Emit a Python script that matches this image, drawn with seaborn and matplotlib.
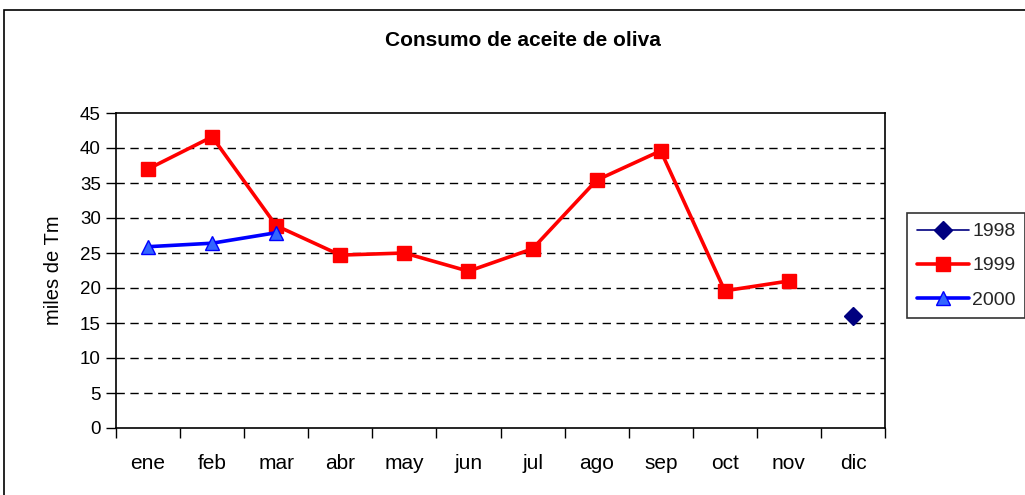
import numpy as np, pandas as pd, matplotlib
matplotlib.use('Agg')
import matplotlib.pyplot as plt
import seaborn as sns
from matplotlib.patches import Rectangle

meses=['ene','feb','mar','abr','may','jun','jul','ago','sep','oct','nov','dic']
v1998=[np.nan]*11+[16.0]
v1999=[37.0,41.6,28.9,24.7,25.0,22.4,25.6,35.4,39.6,19.6,21.0,np.nan]
v2000=[25.9,26.4,27.9]+[np.nan]*9

sns.set_theme(style='white')
plt.rcParams['font.family']=['Liberation Sans','DejaVu Sans']

fig=plt.figure(figsize=(10.25,4.95),dpi=100)
ax=fig.add_axes([116/1025,1-428/495,769/1025,315/495])
x=np.arange(len(meses))
series=[('1998',v1998,'#000080','D',1.2,9,'#000080'),
        ('1999',v1999,'#ff0000','s',2.6,10,'#ff0000'),
        ('2000',v2000,'#0000ff','^',2.6,10,'#3366ff')]
for name,vals,col,mk,lw,ms,fc in series:
    d=pd.DataFrame({'x':x,'y':vals}).dropna()
    sns.lineplot(data=d,x='x',y='y',ax=ax,color=col,marker=mk,linewidth=lw,markersize=ms,
                 markerfacecolor=fc,markeredgecolor=col,markeredgewidth=1,label=name,legend=False)

ax.set_xlim(-0.5,11.5); ax.set_ylim(0,45)
ax.set_yticks(range(0,46,5))
ax.set_xticks(x); ax.set_xticklabels(meses)
ax.set_xticks(np.arange(-0.5,12,1),minor=True)
ax.tick_params(axis='x',which='major',length=0,pad=19,labelsize=15,colors='black')
ax.tick_params(axis='x',which='minor',length=7,width=1,direction='out',color='black',bottom=True)
ax.tick_params(axis='y',length=7,width=1,direction='out',left=True,labelsize=13.5,colors='black',pad=4)
for yy in range(5,45,5):
    ax.axhline(yy,color='black',lw=1,ls=(0,(6,4)),zorder=0)
for s in ax.spines.values():
    s.set_visible(True); s.set_color('black'); s.set_linewidth(1.2)
ax.set_xlabel('')
ax.set_ylabel('miles de Tm',fontsize=14.5,color='black',labelpad=12)

fig.text(523/1025,1-41/495,'Consumo de aceite de oliva',ha='center',va='center',fontsize=15,fontweight='bold',color='black')
fig.patches.append(Rectangle((4/1025,-0.1),1.2,1-10/495+0.1,transform=fig.transFigure,fill=False,edgecolor='black',lw=1.2))

h,l=ax.get_legend_handles_labels()
leg=fig.legend(h,l,loc='upper left',bbox_to_anchor=(907/1025,1-213/495),frameon=True,fancybox=False,
               fontsize=14,handlelength=2.7,borderpad=0.5,labelspacing=0.85,handletextpad=0.15,borderaxespad=0)
leg.get_frame().set_edgecolor('black'); leg.get_frame().set_linewidth(1.2)
fig.savefig('out.png',dpi=100)
